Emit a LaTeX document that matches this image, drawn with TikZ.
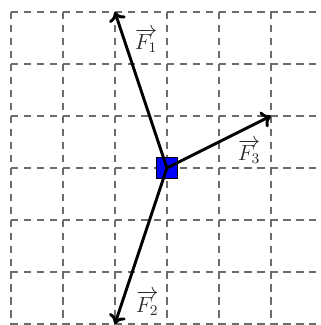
\documentclass[tikz,border=0pt]{standalone}
\usetikzlibrary{arrows.meta}
\begin{document}
\begin{tikzpicture}[x=1cm,y=1cm,
  gridline/.style={gray!85!black, line width=0.8pt, dash pattern=on 3.9pt off 3.2pt},
  force/.style={line width=1.6pt, -{To[length=5pt,width=9.5pt]}},
  lbl/.style={inner sep=0pt, text=black!85, font=\large}]
\useasboundingbox (-3.21,-3.02) rectangle (2.96,3.23);
\begin{scope}
\clip (-3.21,-3.02) rectangle (2.96,3.23);
\foreach \x in {-3,...,3} \draw[gridline] (\x,3) -- (\x,-3.1);
\foreach \y in {-3,...,3} \draw[gridline] (-3,\y) -- (3.1,\y);
\end{scope}
\node[draw=black, fill=blue, minimum size=0.4cm, inner sep=0pt, line width=0.5pt] (m) at (0,0) {};
\coordinate (o) at (0,0);
\coordinate (p1) at (-1,3);
\coordinate (p2) at (-1,-3);
\coordinate (p3) at (2,1);
\draw[force] (o) -- (p1);
\draw[force] (o) -- (p2);
\draw[force] (o) -- (p3);
\node[lbl] (l1) at (-0.4,2.45) {$\overrightarrow{F_1}$};
\node[lbl] (l2) at (-0.38,-2.6) {$\overrightarrow{F_2}$};
\node[lbl] (l3) at (1.58,0.32) {$\overrightarrow{F_3}$};
\end{tikzpicture}
\end{document}
